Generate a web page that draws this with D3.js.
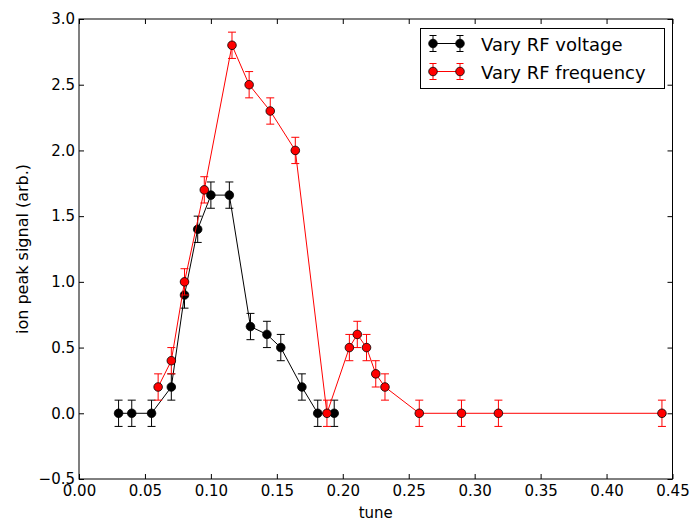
<!DOCTYPE html>
<html><head><meta charset="utf-8">
<script src="https://cdn.jsdelivr.net/npm/d3@7"></script>
<style>body{margin:0;background:#fff}svg{display:block}text{font-family:"DejaVu Sans",sans-serif}</style>
</head><body><svg id="c" width="693" height="521"></svg>
<script>
const voltageX = [0.03,0.04,0.055,0.07,0.08,0.09,0.10,0.114,0.13,0.1425,0.153,0.169,0.181,0.1935];
const voltageY = [0,0,0,0.2,0.9,1.4,1.66,1.66,0.66,0.6,0.5,0.2,0,0];
const freqX = [0.06,0.07,0.08,0.095,0.116,0.129,0.145,0.164,0.188,0.205,0.211,0.218,0.225,0.232,0.258,0.29,0.318,0.442];
const freqY = [0.2,0.4,1.0,1.7,2.8,2.5,2.3,2.0,0,0.5,0.6,0.5,0.3,0.2,0,0,0,0];
const errVal = 0.1;
const xTicks = [0,0.05,0.10,0.15,0.20,0.25,0.30,0.35,0.40,0.45];
const yTicks = [-0.5,0,0.5,1.0,1.5,2.0,2.5,3.0];
const seriesNames = ["Vary RF voltage","Vary RF frequency"];

const svg = d3.select("#c");
const L=79,R=672.5,T=19,B=479;
const x = d3.scaleLinear().domain([0,0.45]).range([L,R]);
const y = d3.scaleLinear().domain([-0.5,3.0]).range([B,T]);

const series = [
  {name:seriesNames[0], xs:voltageX, ys:voltageY, line:"#000", err:"#000", fill:"#000"},
  {name:seriesNames[1], xs:freqX, ys:freqY, line:"#ff0000", err:"#ff0000", fill:"#ff0000"}
];

const g = svg.append("g");
series.forEach(s=>{
  const pts = s.xs.map((v,i)=>[v,s.ys[i]]);
  g.append("path").attr("d", d3.line().x(d=>x(d[0])).y(d=>y(d[1]))(pts))
    .attr("fill","none").attr("stroke",s.line).attr("stroke-width",1);
  pts.forEach(d=>{
    const cx=x(d[0]), y1=y(d[1]-errVal), y2=y(d[1]+errVal);
    g.append("line").attr("x1",cx).attr("x2",cx).attr("y1",y1).attr("y2",y2).attr("stroke",s.err).attr("stroke-width",1);
    [y1,y2].forEach(yy=>g.append("line").attr("x1",cx-4).attr("x2",cx+4).attr("y1",yy).attr("y2",yy).attr("stroke",s.err).attr("stroke-width",1));
  });
  pts.forEach(d=>{
    g.append("circle").attr("cx",x(d[0])).attr("cy",y(d[1])).attr("r",4.3)
      .attr("fill",s.fill).attr("stroke","#000").attr("stroke-width",0.8);
  });
});

// axes with inward ticks
const axB = d3.axisBottom(x).tickValues(xTicks).tickFormat(d3.format(".2f")).tickSizeInner(-5).tickSizeOuter(0).tickPadding(6);
const axT = d3.axisTop(x).tickValues(xTicks).tickFormat("").tickSizeInner(-5).tickSizeOuter(0);
const axL = d3.axisLeft(y).tickValues(yTicks).tickFormat(d=>d<0?"\u22120.5":d3.format(".1f")(d)).tickSizeInner(-5).tickSizeOuter(0).tickPadding(4);
const axR = d3.axisRight(y).tickValues(yTicks).tickFormat("").tickSizeInner(-5).tickSizeOuter(0);
[[axB,`translate(0,${B})`],[axT,`translate(0,${T})`],[axL,`translate(${L},0)`],[axR,`translate(${R},0)`]].forEach(([a,t])=>{
  const ga=svg.append("g").attr("transform",t).call(a);
  ga.select(".domain").remove();
  ga.selectAll("line").attr("stroke","#000");
  ga.selectAll("text").attr("font-size",15).attr("fill","#000").style("font-family","DejaVu Sans");
});
svg.append("rect").attr("x",L).attr("y",T).attr("width",R-L).attr("height",B-T).attr("fill","none").attr("stroke","#000").attr("stroke-width",1);

svg.append("text").attr("x",(L+R)/2).attr("y",518).attr("text-anchor","middle").attr("font-size",15).text("tune");
svg.append("text").attr("transform",`translate(28,${(T+B)/2}) rotate(-90)`).attr("text-anchor","middle").attr("font-size",16).text("ion peak signal (arb.)");

// legend
const lg = svg.append("g");
lg.append("rect").attr("x",420.5).attr("y",28.5).attr("width",244).attr("height",60).attr("fill","#fff").attr("stroke","#000").attr("stroke-width",1);
series.forEach((s,i)=>{
  const yy = 43.5 + i*28;
  lg.append("line").attr("x1",433).attr("x2",460).attr("y1",yy).attr("y2",yy).attr("stroke",s.line);
  [433,460].forEach(cx=>{
    lg.append("line").attr("x1",cx).attr("x2",cx).attr("y1",yy-8).attr("y2",yy+8).attr("stroke",s.err);
    [yy-8,yy+8].forEach(v=>lg.append("line").attr("x1",cx-3.5).attr("x2",cx+3.5).attr("y1",v).attr("y2",v).attr("stroke",s.err));
    lg.append("circle").attr("cx",cx).attr("cy",yy).attr("r",4.3).attr("fill",s.fill).attr("stroke","#000").attr("stroke-width",0.8);
  });
  lg.append("text").attr("x",481).attr("y",yy+7).attr("font-size",18).text(s.name);
});
</script></body></html>
